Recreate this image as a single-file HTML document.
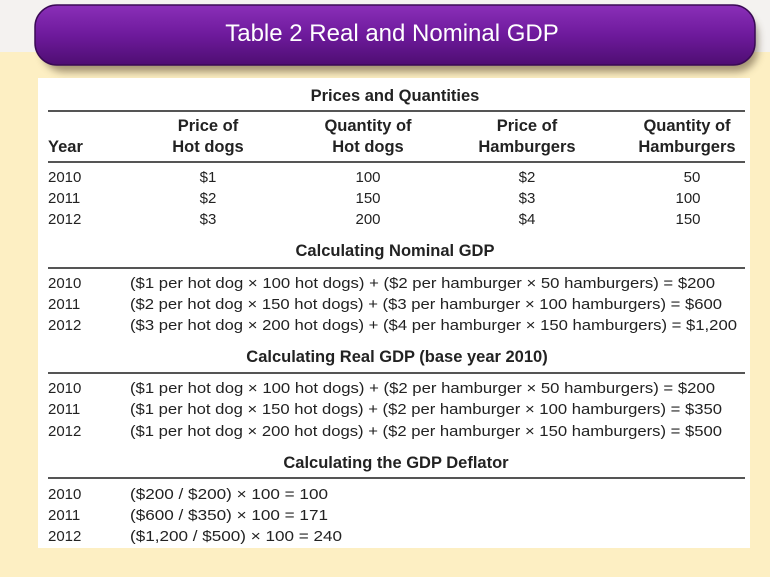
<!DOCTYPE html>
<html><head><meta charset="utf-8"><style>
html,body{margin:0;padding:0;width:770px;height:577px;overflow:hidden;background:#fdefc3;}
svg{display:block}
text{font-family:"Liberation Sans",sans-serif;fill:#222;font-size:15px}
.b{font-weight:bold;font-size:16.5px}
</style></head><body>
<svg width="770" height="577" viewBox="0 0 770 577">
<defs>
<linearGradient id="pg" x1="0" y1="0" x2="0" y2="1">
<stop offset="0" stop-color="#8a2fb8"/><stop offset="0.5" stop-color="#6e1a9c"/><stop offset="1" stop-color="#4e0e72"/>
</linearGradient>
<filter id="sh" x="-5%" y="-20%" width="110%" height="160%"><feGaussianBlur stdDeviation="4"/></filter>
</defs>
<rect x="0" y="0" width="770" height="52" fill="#f4f2f0"/>
<rect x="0" y="52" width="770" height="525" fill="#fdefc3"/>
<rect x="42" y="14" width="716" height="58" rx="22" fill="#5a4a30" opacity="0.55" filter="url(#sh)"/>
<rect x="35" y="5" width="720" height="60" rx="22" fill="url(#pg)" stroke="#3a0a55" stroke-width="1.5"/>
<text x="392" y="41" text-anchor="middle" style="font-size:24px;fill:#fff">Table 2 Real and Nominal GDP</text>
<rect x="38" y="78" width="712" height="470" fill="#fff"/>
<g stroke="#555" stroke-width="2">
<line x1="48" y1="111" x2="745" y2="111"/>
<line x1="48" y1="162" x2="745" y2="162"/>
<line x1="48" y1="268" x2="745" y2="268"/>
<line x1="48" y1="373" x2="745" y2="373"/>
<line x1="48" y1="478" x2="745" y2="478"/>
</g>
<text class="b" x="395" y="101" text-anchor="middle">Prices and Quantities</text>
<text class="b" x="48" y="152">Year</text>
<text class="b" x="208" y="131" text-anchor="middle">Price of</text>
<text class="b" x="208" y="152" text-anchor="middle">Hot dogs</text>
<text class="b" x="368" y="131" text-anchor="middle">Quantity of</text>
<text class="b" x="368" y="152" text-anchor="middle">Hot dogs</text>
<text class="b" x="527" y="131" text-anchor="middle">Price of</text>
<text class="b" x="527" y="152" text-anchor="middle">Hamburgers</text>
<text class="b" x="687" y="131" text-anchor="middle">Quantity of</text>
<text class="b" x="687" y="152" text-anchor="middle">Hamburgers</text>
<g>
<text x="48" y="182">2010</text><text x="208" y="182" text-anchor="middle">$1</text><text x="368" y="182" text-anchor="middle">100</text><text x="527" y="182" text-anchor="middle">$2</text><text x="692" y="182" text-anchor="middle">50</text>
<text x="48" y="203">2011</text><text x="208" y="203" text-anchor="middle">$2</text><text x="368" y="203" text-anchor="middle">150</text><text x="527" y="203" text-anchor="middle">$3</text><text x="688" y="203" text-anchor="middle">100</text>
<text x="48" y="224">2012</text><text x="208" y="224" text-anchor="middle">$3</text><text x="368" y="224" text-anchor="middle">200</text><text x="527" y="224" text-anchor="middle">$4</text><text x="688" y="224" text-anchor="middle">150</text>
</g>
<text class="b" x="395" y="256" text-anchor="middle">Calculating Nominal GDP</text>
<text x="48" y="288">2010</text><text x="130" y="288" textLength="585" lengthAdjust="spacingAndGlyphs">($1 per hot dog × 100 hot dogs) + ($2 per hamburger × 50 hamburgers) = $200</text>
<text x="48" y="309">2011</text><text x="130" y="309" textLength="592" lengthAdjust="spacingAndGlyphs">($2 per hot dog × 150 hot dogs) + ($3 per hamburger × 100 hamburgers) = $600</text>
<text x="48" y="330">2012</text><text x="130" y="330" textLength="607" lengthAdjust="spacingAndGlyphs">($3 per hot dog × 200 hot dogs) + ($4 per hamburger × 150 hamburgers) = $1,200</text>
<text class="b" x="397" y="362" text-anchor="middle">Calculating Real GDP (base year 2010)</text>
<text x="48" y="393">2010</text><text x="130" y="393" textLength="585" lengthAdjust="spacingAndGlyphs">($1 per hot dog × 100 hot dogs) + ($2 per hamburger × 50 hamburgers) = $200</text>
<text x="48" y="414">2011</text><text x="130" y="414" textLength="592" lengthAdjust="spacingAndGlyphs">($1 per hot dog × 150 hot dogs) + ($2 per hamburger × 100 hamburgers) = $350</text>
<text x="48" y="436">2012</text><text x="130" y="436" textLength="592" lengthAdjust="spacingAndGlyphs">($1 per hot dog × 200 hot dogs) + ($2 per hamburger × 150 hamburgers) = $500</text>
<text class="b" x="396" y="468" text-anchor="middle">Calculating the GDP Deflator</text>
<text x="48" y="499">2010</text><text x="130" y="499" textLength="198" lengthAdjust="spacingAndGlyphs">($200 / $200) × 100 = 100</text>
<text x="48" y="520">2011</text><text x="130" y="520" textLength="198" lengthAdjust="spacingAndGlyphs">($600 / $350) × 100 = 171</text>
<text x="48" y="541">2012</text><text x="130" y="541" textLength="212" lengthAdjust="spacingAndGlyphs">($1,200 / $500) × 100 = 240</text>
</svg>
</body></html>
